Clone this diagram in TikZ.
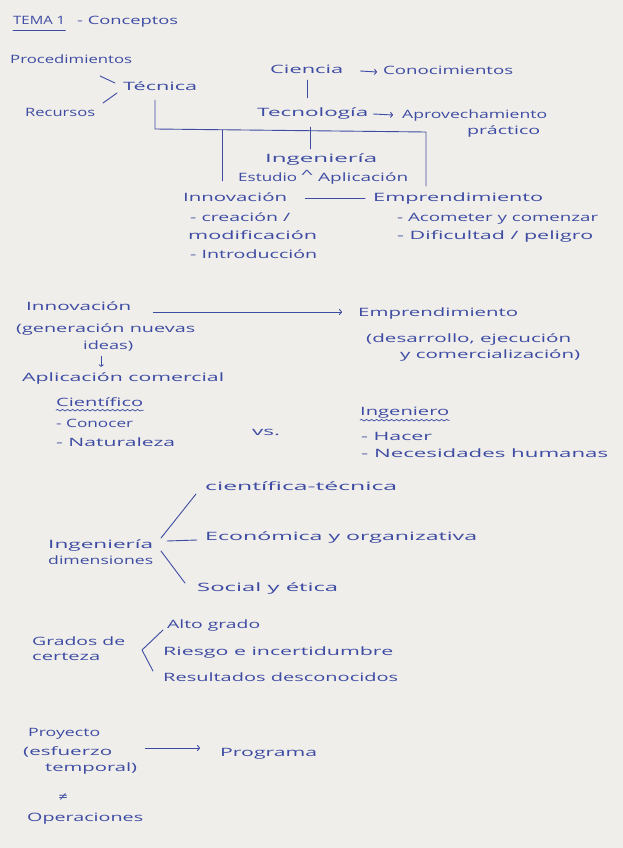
\documentclass[tikz,border=0pt]{standalone}
\usepackage{fontspec}
\setmainfont{Open Sans}
\newfontfamily\symf{DejaVu Sans}
\usetikzlibrary{arrows.meta,decorations.pathmorphing}
\definecolor{ink}{HTML}{3D4BA3}
\definecolor{paper}{HTML}{EFEEEA}
\newcommand{\hw}[2]{\resizebox{#1pt}{\height}{#2}}
\begin{document}
\begin{tikzpicture}[x=1pt,y=-1pt,
  t/.style={anchor=west, inner sep=0pt, text height=9pt, text depth=3pt, text=ink,
            font=\fontsize{11.5}{13}\selectfont},
  ln/.style={draw=ink, line width=0.9pt, line cap=round, line join=round},
  arr/.style={ln, -{To[length=3pt,width=6pt]}},
  wavy/.style={ln, line width=0.7pt, decorate, decoration={snake, amplitude=0.8pt, segment length=5pt}}]
\useasboundingbox (0,0) rectangle (623,848);
\fill[paper] (0,0) rectangle (623,848);

% ---------- Section 1 ----------
\node[t] (tema) at (13,22) {\hw{52}{TEMA 1}};
\node[t] (concep) at (77,22) {\hw{101}{- Conceptos}};
\draw[ln,line width=0.7pt] ([yshift=-2pt]tema.south west) -- ([yshift=-2pt]tema.south east);

\node[t] (proc) at (10,61) {\hw{122}{Procedimientos}};
\node[t] (tec) at (123,88) {\hw{74}{Técnica}};
\node[t] (rec) at (25,113) {\hw{70}{Recursos}};
\coordinate (pa) at (100,76); \coordinate (pb) at (115,83);
\coordinate (ra) at (103,103); \coordinate (rb) at (117,93);
\draw[ln] (pa) -- (pb);
\draw[ln] (ra) -- (rb);

\node[t] (cien) at (270,71) {\hw{73}{Ciencia}};
\node[t] (conoc) at (383,72) {\hw{130}{Conocimientos}};
\draw[arr] ([xshift=17pt]cien.east) -- ([xshift=-6pt]conoc.west);

\node[t] (tecno) at (257,114) {\hw{111}{Tecnología}};
\node[t] (aprov) at (402,115) {\hw{145}{Aprovechamiento}};
\node[t] (pract) at (467,131) {\hw{73}{práctico}};
\draw[arr] ([xshift=5pt]tecno.east) -- ([xshift=-9pt]aprov.west);
\draw[ln] ([xshift=0.5pt,yshift=-3pt]cien.south) -- ([xshift=0.5pt,yshift=10pt]cien.south |- tecno.north);

\node[t] (ing) at (265,159) {\hw{112}{Ingeniería}};
\node[t] (estu) at (238,178) {\hw{59}{Estudio}};
\node[t] (caret) at (301,175) {\hw{12}{\textasciicircum}};
\node[t] (aplic) at (318,178) {\hw{90}{Aplicación}};
\draw[ln] ([xshift=-2pt,yshift=-7pt]tecno.south) -- ([xshift=-2pt,yshift=4pt]tecno.south |- ing.north);

\node[t] (innov1) at (183,198) {\hw{104}{Innovación}};
\node[t] (empr1) at (373,198) {\hw{170}{Emprendimiento}};
\draw[ln] ([xshift=18pt]innov1.east) -- ([xshift=-8pt]empr1.west);

\coordinate (b1) at (155,100);
\coordinate (b2) at (155,129);
\coordinate (b3) at (426,132);
\coordinate (b4) at (426,186);
\draw[ln] (tec.south -| b1) ++(0,6) -- (b2) -- (b3) -- (b4);
\draw[ln] (222,130) -- ([xshift=39pt,yshift=11pt]innov1.north west);

\node[t] (crea) at (190,218) {\hw{100}{- creación /}};
\node[t] (modif) at (188,236) {\hw{129}{modificación}};
\node[t] (intro) at (190,255) {\hw{127}{- Introducción}};
\node[t] (acom) at (397,218) {\hw{201}{- Acometer y comenzar}};
\node[t] (dific) at (397,236) {\hw{196}{- Dificultad / peligro}};

% ---------- Section 2 ----------
\node[t] (innov2) at (26,307) {\hw{105}{Innovación}};
\node[t] (empr2) at (358,313) {\hw{160}{Emprendimiento}};
\draw[arr] ([xshift=22pt,yshift=-5pt]innov2.east) -- ([xshift=-16pt,yshift=1pt]empr2.west);
\node[t] (gen) at (16,329) {\hw{179}{(generación nuevas}};
\node[t] (ideas) at (83,346) {\hw{50}{ideas)}};
\node[t] (desa) at (366,339) {\hw{205}{(desarrollo, ejecución}};
\node[t] (comer) at (400,355) {\hw{180}{y comercialización)}};
\node[t] (aplcom) at (22,378) {\hw{202}{Aplicación comercial}};
\draw[arr,line width=0.8pt,-{To[length=2.5pt,width=5pt]}] ([xshift=-7pt,yshift=-4pt]ideas.south) -- ([xshift=-7pt,yshift=5pt]ideas.south |- aplcom.north);

\node[t] (cient) at (56,403) {\hw{87}{Científico}};
\draw[wavy] ([yshift=-1pt]cient.south west) -- ([yshift=-1pt]cient.south east);
\node[t] (conocer) at (56,424) {\hw{77}{- Conocer}};
\node[t] (natur) at (56,443) {\hw{119}{- Naturaleza}};
\node[t] (vs) at (252,432) {\hw{28}{vs.}};
\node[t] (ingr) at (360,412) {\hw{89}{Ingeniero}};
\draw[wavy] ([yshift=-2pt]ingr.south west) -- ([yshift=-2pt]ingr.south east);
\node[t] (hacer) at (361,437) {\hw{71}{- Hacer}};
\node[t] (neces) at (361,454) {\hw{247}{- Necesidades humanas}};

% ---------- Section 3 ----------
\node[t] (cientec) at (205,487) {\hw{192}{científica-técnica}};
\node[t] (dim1) at (48,545) {\hw{105}{Ingeniería}};
\node[t] (dim2) at (48,561) {\hw{105}{dimensiones}};
\node[t] (econ) at (205,537) {\hw{272}{Económica y organizativa}};
\node[t] (social) at (197,588) {\hw{141}{Social y ética}};
\coordinate (du0) at (161,538); \coordinate (du1) at (196,494);
\coordinate (dh0) at (167,541); \coordinate (dh1) at (197,540);
\coordinate (dd0) at (161,551); \coordinate (dd1) at (185,583);
\draw[ln] (du0) -- (du1);
\draw[ln] (dh0) -- (dh1);
\draw[ln] (dd0) -- (dd1);

% ---------- Section 4 ----------
\node[t] (gr1) at (32,642) {\hw{93}{Grados de}};
\node[t] (gr2) at (32,657) {\hw{68}{certeza}};
\node[t] (alto) at (167,625) {\hw{93}{Alto grado}};
\node[t] (riesgo) at (163,652) {\hw{230}{Riesgo e incertidumbre}};
\node[t] (result) at (163,678) {\hw{235}{Resultados desconocidos}};
\coordinate (ga) at (163,630); \coordinate (gb) at (142,650); \coordinate (gc) at (153,671);
\draw[ln] (ga) -- (gb) -- (gc);

% ---------- Section 5 ----------
\node[t] (proy) at (28,733) {\hw{72}{Proyecto}};
\node[t] (esf) at (23,752) {\hw{89}{(esfuerzo}};
\node[t] (temp) at (45,768) {\hw{92}{temporal)}};
\node[t] (prog) at (220,753) {\hw{97}{Programa}};
\draw[arr] ([xshift=33pt,yshift=4pt]esf.east) -- ([xshift=-20pt,yshift=5pt]prog.west);
\node[t] (neq) at (58,797) {\hw{10}{\symf ≠}};
\node[t] (oper) at (27,818) {\hw{116}{Operaciones}};
\end{tikzpicture}
\end{document}
